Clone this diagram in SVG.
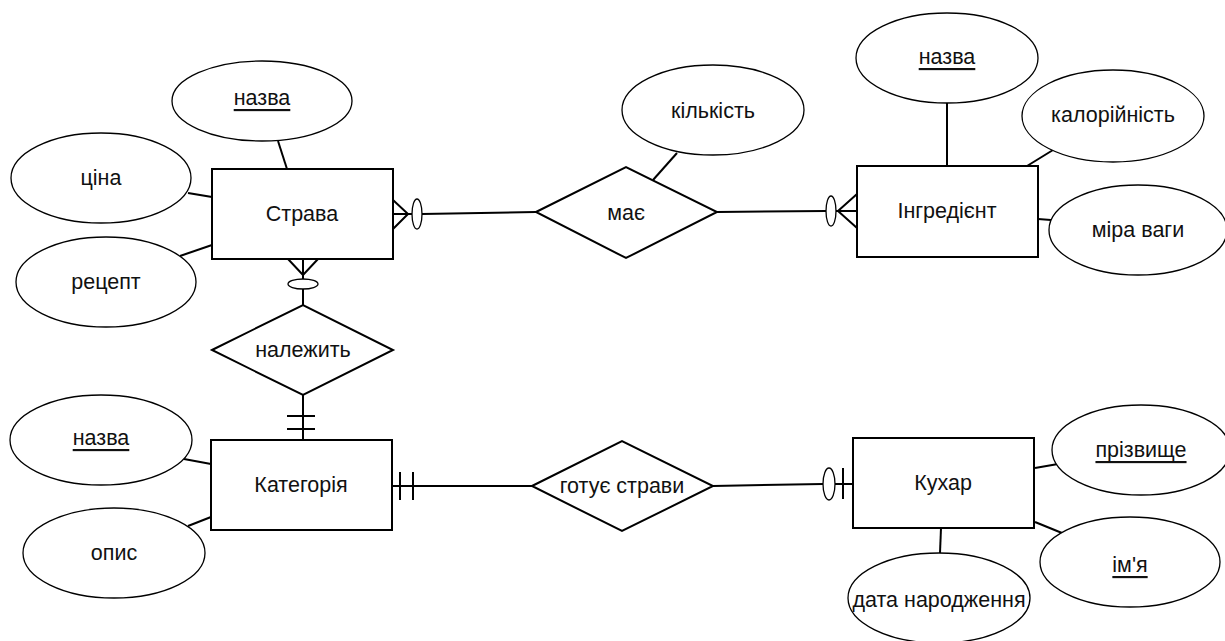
<svg xmlns="http://www.w3.org/2000/svg" width="1225" height="641" viewBox="0 0 1225 641">
<style>
text{font-family:"Liberation Sans",Arial,sans-serif;font-size:21.5px;fill:#111;text-anchor:middle;dominant-baseline:central}
.u{text-decoration:underline}
.ent{fill:#fff;stroke:#000;stroke-width:2}
.rel{fill:#fff;stroke:#000;stroke-width:2}
.att{fill:#fff;stroke:#000;stroke-width:1.3}
.c line,.c polyline{stroke:#000;stroke-width:2;fill:none}
.c ellipse{fill:#fff;stroke:#000;stroke-width:1.3}
</style>
<rect width="1225" height="641" fill="#fff"/>
<g id="connectors" class="c">
<line x1="278" y1="141" x2="287" y2="169"/>
<line x1="188" y1="193" x2="212" y2="197"/>
<line x1="180" y1="256" x2="212" y2="245"/>
<polyline points="393,200 408,214 393,229"/>
<line x1="393" y1="214" x2="412" y2="214"/>
<ellipse cx="417" cy="214" rx="5" ry="15"/>
<line x1="422" y1="214" x2="536" y2="212"/>
<polyline points="288,259 303,275 318,259"/>
<line x1="303" y1="259" x2="303" y2="279"/>
<ellipse cx="303" cy="284" rx="15" ry="5"/>
<line x1="303" y1="289" x2="303" y2="305"/>
<line x1="653" y1="180" x2="677" y2="153"/>
<line x1="717" y1="212" x2="826" y2="211"/>
<ellipse cx="831" cy="211" rx="5" ry="15"/>
<polyline points="857,194 838,211 857,228"/>
<line x1="836" y1="211" x2="857" y2="211"/>
<line x1="947" y1="103" x2="947" y2="166"/>
<line x1="1027" y1="166" x2="1053" y2="150"/>
<line x1="1038" y1="219" x2="1051" y2="220"/>
<line x1="303" y1="395" x2="303" y2="440"/>
<line x1="287" y1="416" x2="315" y2="416"/>
<line x1="287" y1="429" x2="315" y2="429"/>
<line x1="184" y1="459" x2="211" y2="464"/>
<line x1="188" y1="526" x2="211" y2="517"/>
<line x1="392" y1="486" x2="532" y2="486"/>
<line x1="400" y1="472" x2="400" y2="500"/>
<line x1="413" y1="472" x2="413" y2="500"/>
<line x1="713" y1="486" x2="823" y2="484"/>
<ellipse cx="829" cy="484" rx="6" ry="16"/>
<line x1="835" y1="484" x2="853" y2="484"/>
<line x1="843" y1="468" x2="843" y2="499"/>
<line x1="1035" y1="468" x2="1058" y2="464"/>
<line x1="1035" y1="522" x2="1062" y2="533"/>
<line x1="941" y1="528" x2="940" y2="553"/>
</g>
<g id="strava"><rect class="ent" x="212" y="169" width="181" height="90"/><text x="302" y="214">Страва</text></g>
<g id="strava-nazva"><ellipse class="att" cx="262" cy="101" rx="90" ry="40"/><text class="u" x="262" y="98">назва</text></g>
<g id="strava-tsina"><ellipse class="att" cx="101" cy="178" rx="90" ry="45"/><text x="101" y="178">ціна</text></g>
<g id="strava-retsept"><ellipse class="att" cx="106" cy="282" rx="90" ry="45"/><text x="106" y="282">рецепт</text></g>
<g id="maie"><polygon class="rel" points="536,212 626,167 717,212 626,258"/><text x="626" y="213">має</text></g>
<g id="kilkist"><ellipse class="att" cx="713" cy="110" rx="91" ry="45"/><text x="713" y="111">кількість</text></g>
<g id="ingredient"><rect class="ent" x="857" y="166" width="181" height="91"/><text x="947" y="211">Інгредієнт</text></g>
<g id="ingr-nazva"><ellipse class="att" cx="947" cy="58" rx="91" ry="45"/><text class="u" x="947" y="57">назва</text></g>
<g id="kaloriinist"><ellipse class="att" cx="1113" cy="116" rx="91" ry="46"/><text x="1113" y="115">калорійність</text></g>
<g id="mira-vagy"><ellipse class="att" cx="1138" cy="230" rx="89" ry="45"/><text x="1138" y="230">міра ваги</text></g>
<g id="nalezhyt"><polygon class="rel" points="212,350 303,305 393,350 303,395"/><text x="303" y="350">належить</text></g>
<g id="kategoria"><rect class="ent" x="211" y="440" width="181" height="90"/><text x="301" y="485">Категорія</text></g>
<g id="kat-nazva"><ellipse class="att" cx="101" cy="440" rx="91" ry="45"/><text class="u" x="101" y="438">назва</text></g>
<g id="opys"><ellipse class="att" cx="114" cy="553" rx="91" ry="45"/><text x="114" y="553">опис</text></g>
<g id="gotuie"><polygon class="rel" points="532,486 622,441 713,486 622,531"/><text x="622" y="486">готує страви</text></g>
<g id="kukhar"><rect class="ent" x="853" y="438" width="181" height="90"/><text x="943" y="483">Кухар</text></g>
<g id="prizvyshche"><ellipse class="att" cx="1141" cy="450" rx="89" ry="45"/><text class="u" x="1141" y="450">прізвище</text></g>
<g id="imia"><ellipse class="att" cx="1130" cy="562" rx="90" ry="45"/><text class="u" x="1130" y="565">ім'я</text></g>
<g id="data"><ellipse class="att" cx="939" cy="598" rx="91" ry="45"/><text x="939" y="600">дата народження</text></g>
</svg>
